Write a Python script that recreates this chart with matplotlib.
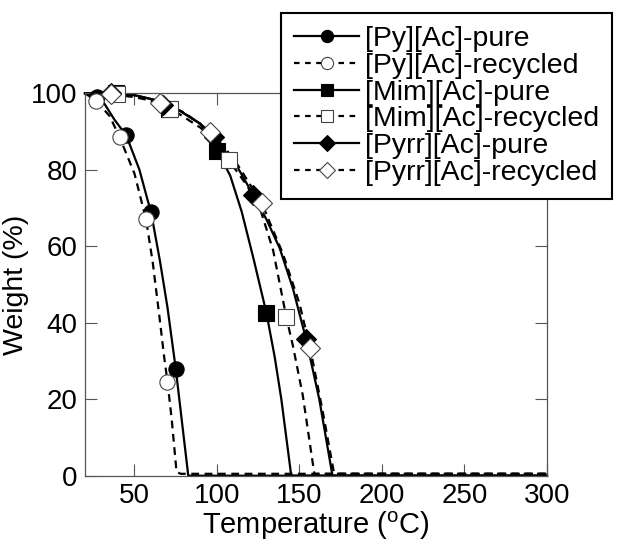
import matplotlib
matplotlib.use("Agg")
import matplotlib.pyplot as plt

plt.rcParams["font.family"] = ["Liberation Sans", "DejaVu Sans"]
plt.rcParams["mathtext.fontset"] = "custom"
plt.rcParams["mathtext.rm"] = "Liberation Sans"

# Measured points (temperature in degC, weight in %)
py_pure_T = [27, 45, 60, 75]
py_pure_W = [99, 89, 69, 28]
py_rec_T = [26.5, 41, 57, 70]
py_rec_W = [98, 88.5, 67, 24.6]
mim_pure_T = [39, 71, 100, 130]
mim_pure_W = [100, 96, 85, 42.5]
mim_rec_T = [39.5, 71.5, 107.5, 142]
mim_rec_W = [99.7, 96, 82.5, 41.5]
pyrr_pure_T = [36, 67, 98, 122, 154]
pyrr_pure_W = [100, 97, 88.5, 73.4, 35.7]
pyrr_rec_T = [36, 65.5, 96, 127, 156.5]
pyrr_rec_W = [99.7, 97.5, 90, 71.4, 33.3]

# Fitted weight-loss curves
py_pure_fit_T = [20, 30, 38, 45, 53, 58, 60, 65.5, 70, 75, 82.6, 300]
py_pure_fit_W = [100, 98.5, 93, 89, 80, 72, 69, 56, 44, 28, 0, 0]
py_rec_fit_T = [20, 27, 35, 41, 50, 57, 61, 65, 68, 70, 72.5, 75.5, 78, 300]
py_rec_fit_W = [100, 98, 94, 88.5, 79, 67, 56, 42, 31, 24.6, 15, 1, 0.5, 0.5]
mim_pure_fit_T = [20, 40, 50, 70, 90, 100, 108, 115, 122, 130, 135, 139, 145, 300]
mim_pure_fit_W = [100, 100, 99.5, 97.5, 92, 85, 78.5, 69, 57, 42.5, 31, 20, 0, 0]
mim_rec_fit_T = [20, 40, 55, 72, 90, 100, 108, 118, 126, 134, 142, 146, 152, 159, 300]
mim_rec_fit_W = [100, 99.8, 99, 96, 91, 87, 82, 76, 70, 59, 41.5, 34, 21, 0.5, 0.5]
pyrr_pure_fit_T = [20, 40, 50, 70, 90, 100, 112, 122, 130, 138, 146, 154, 162, 170, 300]
pyrr_pure_fit_W = [100, 100, 99.5, 97.5, 92, 87.5, 81, 73.4, 67, 59.5, 49, 35.7, 20, 0, 0]
pyrr_rec_fit_T = [20, 36, 50, 66, 80, 96, 110, 127, 140, 150, 156.5, 164, 171, 300]
pyrr_rec_fit_W = [100, 99.7, 99, 97.5, 95, 90, 83, 71.4, 58, 45, 33.3, 17, 0.5, 0.5]

labels = ["[Py][Ac]-pure", "[Py][Ac]-recycled", "[Mim][Ac]-pure",
          "[Mim][Ac]-recycled", "[Pyrr][Ac]-pure", "[Pyrr][Ac]-recycled"]

fig = plt.figure(figsize=(6.23, 5.42), dpi=100)
ax = fig.add_axes([0.1364, 0.1223, 0.7416, 0.7056])

series = [
    (py_pure_T, py_pure_W, py_pure_fit_T, py_pure_fit_W, "o", True),
    (py_rec_T, py_rec_W, py_rec_fit_T, py_rec_fit_W, "o", False),
    (mim_pure_T, mim_pure_W, mim_pure_fit_T, mim_pure_fit_W, "s", True),
    (mim_rec_T, mim_rec_W, mim_rec_fit_T, mim_rec_fit_W, "s", False),
    (pyrr_pure_T, pyrr_pure_W, pyrr_pure_fit_T, pyrr_pure_fit_W, "D", True),
    (pyrr_rec_T, pyrr_rec_W, pyrr_rec_fit_T, pyrr_rec_fit_W, "D", False),
]
msizes = {"o": 11, "s": 11.5, "D": 10}

handles = []
for (T, W, fT, fW, mk, pure), lab in zip(series, labels):
    ls = "-" if pure else (0, (3.5, 2.5))
    ax.plot(fT, fW, color="black", lw=1.6, linestyle=ls, clip_on=False, zorder=2)
    ax.plot(T, W, linestyle="none", marker=mk, ms=msizes[mk],
            mfc="black" if pure else "white", mec="black" if pure else "#444444",
            mew=0.8, clip_on=False, zorder=3)
    h, = ax.plot([], [], color="black", lw=1.6, linestyle="-" if pure else (0, (2.5, 2.5)),
                 marker=mk, ms=msizes[mk] * 0.8, mfc="black" if pure else "white",
                 mec="black" if pure else "#444444", mew=0.8)
    handles.append(h)

ax.set_xlim(20, 300)
ax.set_ylim(0, 100)
ax.set_xticks([50, 100, 150, 200, 250, 300])
ax.set_yticks([0, 20, 40, 60, 80, 100])
ax.tick_params(direction="in", length=8.5, width=0.8, color="#555555",
               top=True, right=True, labelsize=20, pad=5.5)
for sp in ax.spines.values():
    sp.set_color("#555555")
    sp.set_linewidth(0.9)

ax.set_xlabel("Temperature ($^{\\rm o}$C)", fontsize=21, labelpad=0)
ax.set_ylabel("Weight (%)", fontsize=20.5, labelpad=1)

leg = fig.legend(handles, labels, loc="upper left",
                 bbox_to_anchor=(281 / 623, 1 - 13 / 542),
                 fontsize=20.5, frameon=True, fancybox=False, handlelength=2.3,
                 handletextpad=0.2, labelspacing=0.03, borderpad=0.45,
                 borderaxespad=0)
leg.get_frame().set_edgecolor("black")
leg.get_frame().set_linewidth(1.5)
leg.get_frame().set_alpha(1)

fig.savefig("out.png", dpi=100)
